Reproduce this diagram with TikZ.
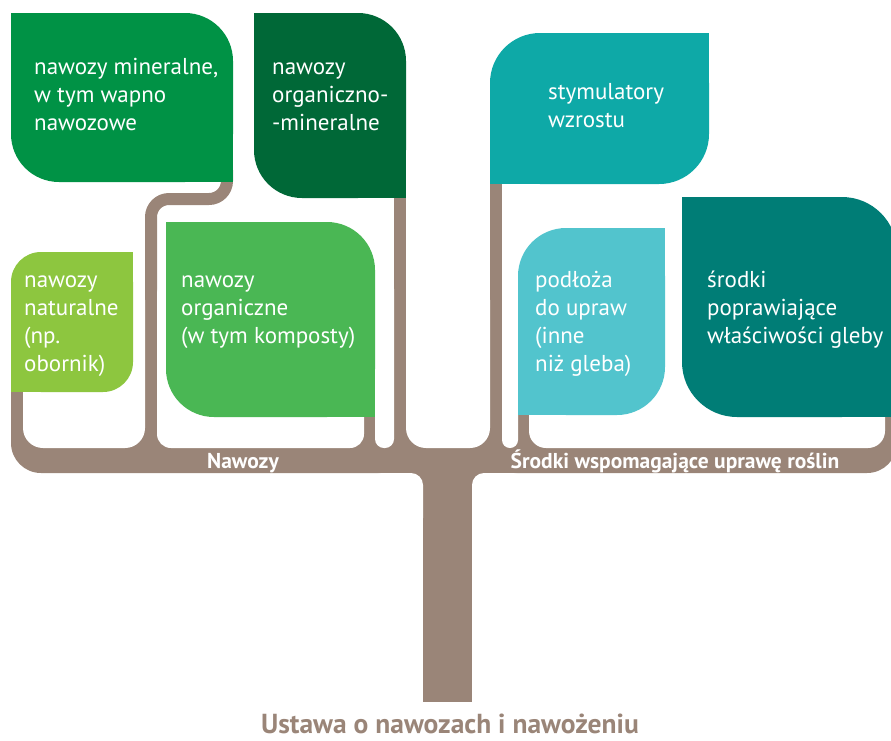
\documentclass[tikz,border=0pt]{standalone}
\usepackage{fontspec}
\setmainfont{PT Sans}
\usepackage{tikz}
\definecolor{treebrown}{RGB}{154,133,120}
\definecolor{leafmineral}{RGB}{0,146,69}
\definecolor{leaforgmin}{RGB}{0,104,55}
\definecolor{leafnatural}{RGB}{141,198,63}
\definecolor{leaforganic}{RGB}{74,183,84}
\definecolor{leafstim}{RGB}{14,169,167}
\definecolor{leafsubstrate}{RGB}{82,196,205}
\definecolor{leafsoil}{RGB}{0,125,118}
\newcommand{\leafstrut}{\rule{0pt}{20pt}}
\begin{document}
\begin{tikzpicture}[line cap=butt,line join=round,x=1pt,y=-1pt,
  leaftext/.style={anchor=north west,inner sep=0pt,align=left,text=white,
    font=\fontsize{23}{28}\selectfont},
  barlabel/.style={anchor=base,inner sep=0pt,text=white,
    font=\bfseries\fontsize{21.5}{24}\selectfont},
  branch/.style={draw=treebrown,line width=12pt}]
\useasboundingbox (0,0) rectangle (891,740);
\clip (0,0) rectangle (891,740);
\fill[treebrown,rounded corners=30] (11,300) rectangle (897,473);
\draw[branch,rounded corners=18] (227,170) -- (227,199) -- (151,199) -- (151,448);
\draw[branch] (400,190) -- (400,448);
\draw[branch] (496,175) -- (496,448);
\foreach \xa/\xb/\r in {23/145/20,157/364/14,375/394/9,406/490/20,502/518/8,529/885/17}
\fill[white,rounded corners=\r] (\xa,280) rectangle (\xb,448);
\fill[treebrown] (405,470) rectangle (490,490);
\fill[treebrown] (423,470) rectangle (472,702);
\fill[white,rounded corners=12] (370,473) rectangle (423,530);
\fill[white,rounded corners=12] (472,473) rectangle (525,530);
\foreach \xa/\ya/\xb/\yb/\r/\c in {11/13/233/182/48/leafmineral,254/13/406/198/48/leaforgmin,
  166/222/375/417/48/leaforganic,682/197/897/417/55/leafsoil}{
\fill[fill=\c,rounded corners=\r] (\xa,\ya) rectangle (\xb,\yb);
\fill[fill=\c] (\xa,\ya) rectangle +(\r,\r);
\fill[fill=\c] (\xb,\yb) rectangle +(-\r,-\r);
}
\foreach \xa/\ya/\xb/\yb/\r/\c in {11/252/133/392/30/leafnatural,490/33/709/184/50/leafstim,
  518/228/665/415/48/leafsubstrate}{
\fill[fill=\c,rounded corners=\r] (\xa,\ya) rectangle (\xb,\yb);
\fill[fill=\c] (\xb,\ya) rectangle +(-\r,\r);
\fill[fill=\c] (\xa,\yb) rectangle +(\r,-\r);
}
\node[leaftext] (mineral) at (34,54) {\leafstrut nawozy mineralne,\\w tym wapno\\nawozowe};
\node[leaftext] (orgmin) at (272,54) {\leafstrut nawozy\\organiczno-\\-mineralne};
\node[leaftext] (natural) at (24,267) {\leafstrut nawozy\\naturalne\\(np.\\obornik)};
\node[leaftext] (organic) at (181,267) {\leafstrut nawozy\\organiczne\\(w tym komposty)};
\node[leaftext] (stim) at (548,79) {\leafstrut stymulatory\\wzrostu};
\node[leaftext] (substrate) at (535,267) {\leafstrut podłoża\\do upraw\\(inne\\niż gleba)};
\node[leaftext] (soil) at (707,267) {\leafstrut środki\\poprawiające\\właściwości gleby};
\node[barlabel] (fertilizers) at (243,468) {Nawozy};
\node[barlabel] (aids) at (675,468) {Środki wspomagające uprawę roślin};
\node[anchor=base,inner sep=0pt,text=treebrown,font=\bfseries\fontsize{27.5}{30}\selectfont]
  (act) at (450,733) {Ustawa o nawozach i nawożeniu};
\end{tikzpicture}
\end{document}
